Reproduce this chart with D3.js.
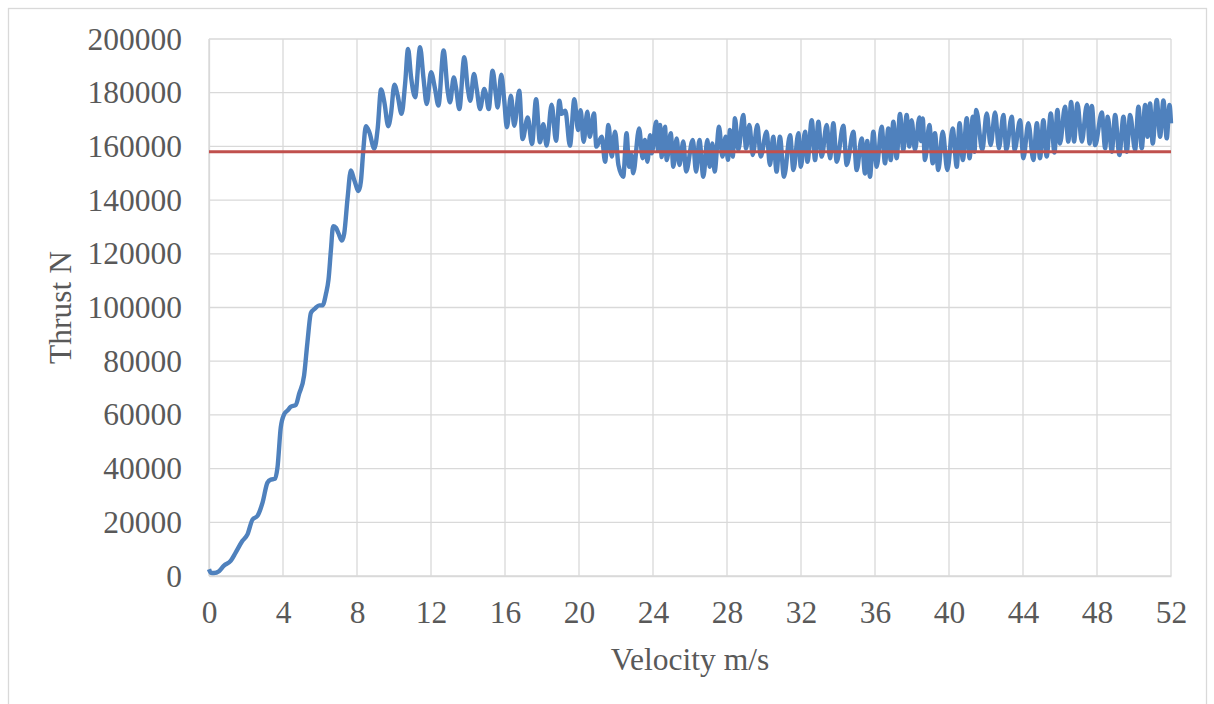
<!DOCTYPE html>
<html lang="en">
  <head>
    <meta charset="UTF-8" />
    <title>Thrust vs Velocity</title>
    <script src="https://d3js.org/d3.v7.min.js"></script>
    <style>
      body {
        margin: 0;
        padding: 0;
        background: #fff;
        font-family: "Liberation Serif", "Times New Roman", serif;
      }

      .grid line {
        stroke: #d9d9d9;
        stroke-width: 1.3;
      }

      .tick-label {
        fill: #595959;
        font-family: "Liberation Serif", "Times New Roman", serif;
        font-size: 31.5px;
      }

      .axis-title {
        fill: #595959;
        font-family: "Liberation Serif", "Times New Roman", serif;
        font-size: 31.5px;
      }
    </style>
  </head>
  <body>
    <div id="chart"></div>

    <script>
      const velocity = [
        0, 0.1, 0.27, 0.54, 0.81, 1.17, 1.44, 1.8, 2.08, 2.35, 2.62, 2.89,
        3.16, 3.34, 3.57, 3.7, 3.88, 4.06, 4.24, 4.42, 4.69, 4.87, 5.14, 5.32,
        5.51, 5.74, 5.96, 6.14, 6.32, 6.46, 6.59, 6.71, 6.86, 7.0, 7.18, 7.31,
        7.49, 7.67, 7.85, 8.09, 8.21, 8.34, 8.48, 8.66, 8.94, 9.12, 9.3, 9.48,
        9.69, 9.84, 10.02, 10.2, 10.41, 10.6, 10.76, 10.92, 11.14, 11.41,
        11.59, 11.77, 12.0, 12.22, 12.4, 12.68, 12.9, 13.03, 13.23, 13.35,
        13.53, 13.8, 13.98, 14.13, 14.32, 14.47, 14.65, 14.88, 14.97, 15.12,
        15.33, 15.51, 15.6, 15.8, 15.96, 16.1, 16.32, 16.5, 16.77, 16.95,
        17.23, 17.46, 17.68, 17.89, 18.07, 18.25, 18.52, 18.76, 18.94, 19.06,
        19.26, 19.51, 19.75, 19.95, 20.09, 20.25, 20.45, 20.58, 20.81, 20.94,
        21.23, 21.41, 21.59, 21.77, 21.95, 22.13, 22.39, 22.57, 22.71, 22.82,
        22.93, 23.25, 23.44, 23.56, 23.7, 23.84, 23.93, 24.17, 24.27, 24.38,
        24.47, 24.65, 24.74, 24.96, 25.1, 25.28, 25.43, 25.64, 25.79, 26.15,
        26.33, 26.51, 26.72, 26.94, 27.06, 27.21, 27.33, 27.57, 27.75, 27.93,
        28.05, 28.16, 28.31, 28.43, 28.61, 28.88, 29.03, 29.21, 29.39, 29.64,
        29.82, 30.14, 30.32, 30.5, 30.68, 30.86, 31.08, 31.41, 31.59, 31.86,
        31.99, 32.22, 32.35, 32.58, 32.76, 32.94, 33.12, 33.39, 33.57, 33.75,
        33.93, 34.29, 34.47, 34.83, 35.01, 35.28, 35.46, 35.58, 35.73, 35.91,
        36.09, 36.36, 36.54, 36.72, 36.85, 36.99, 37.17, 37.35, 37.53, 37.71,
        37.86, 37.98, 38.16, 38.4, 38.48, 38.58, 38.7, 38.94, 39.12, 39.24,
        39.42, 39.66, 39.91, 40.2, 40.42, 40.57, 40.75, 40.96, 41.11, 41.29,
        41.38, 41.47, 41.8, 42.04, 42.25, 42.49, 42.7, 42.94, 43.1, 43.39,
        43.55, 43.84, 44.02, 44.29, 44.56, 44.75, 44.92, 45.1, 45.28, 45.5,
        45.7, 45.86, 46.0, 46.27, 46.45, 46.6, 46.76, 46.94, 47.18, 47.45,
        47.6, 47.72, 47.9, 48.26, 48.44, 48.58, 48.8, 48.98, 49.21, 49.43,
        49.61, 49.79, 50.06, 50.24, 50.42, 50.6, 50.73, 50.87, 51.01, 51.23,
        51.41, 51.59, 51.77, 51.92, 52.0,
      ];

      const thrust = [
        2500, 1200, 1100, 1800, 3850, 5600, 8700, 13000, 15500, 21000, 22400,
        27200, 34800, 35900, 36200, 40300, 55400, 60200, 61600, 63000, 63700,
        67800, 74700, 87000, 98000, 99700, 100800, 100800, 105000, 110400,
        121400, 130300, 129700, 127600, 124900, 127600, 140700, 151000,
        147500, 143400, 146900, 158500, 167500, 165400, 159200, 166800,
        181200, 176400, 167500, 172300, 183000, 178900, 172100, 183300,
        196300, 186000, 178300, 196900, 185700, 175800, 187600, 181400,
        175200, 195700, 180700, 176400, 185700, 182000, 173900, 193200,
        182000, 177000, 187000, 181400, 173900, 181400, 179500, 173900,
        188200, 178900, 174500, 186700, 177000, 167100, 178900, 167700,
        180700, 162700, 170800, 160900, 177600, 161500, 168300, 160300,
        175500, 162100, 177000, 172100, 173300, 160300, 177600, 166100,
        173500, 161700, 172900, 163600, 172300, 159900,
        163600, 154300, 168000, 156200, 165500, 153100, 148700, 164900,
        152400, 157000, 150000, 166700, 155600, 162400, 154300, 164200,
        157400, 169200, 158700, 168000, 156000, 167300, 154900, 164900,
        152400, 163000, 153100, 161800, 150600, 162400, 150600, 162400,
        148700, 162400, 152400, 161100, 150600, 167300, 156200, 163600,
        155000, 166100, 156200, 170500, 158700, 171700, 159300, 168000,
        156800, 168000, 156200, 165500, 153100, 163600, 150600, 163600,
        148700, 164200, 151200, 164900, 152400, 165500, 154300, 169800,
        154900, 169200, 156200, 168000, 155600, 168600, 154300, 167700,
        153100, 165500, 151200, 163000, 149900, 162000, 148700, 165500,
        152400, 167300, 153700, 166700, 154900, 169200, 155600, 172100,
        158700, 171700, 159900, 169800, 158700, 170800, 162000, 170400,
        154900, 168000, 153700, 164900, 151200, 165500, 151200, 166700,
        152400, 168600, 154900, 170500, 155600, 171100, 158000, 173600,
        158700, 172300, 160500, 172600, 159300, 171700, 158700, 171100,
        158700, 169800, 155600, 168600, 154900, 168600, 155600, 169800,
        156200, 172300, 157700, 173600, 161100, 174800, 161800, 176600,
        161800, 176000, 161800, 175400, 161100, 175100, 160500, 172600,
        159300, 171100, 158000, 171700, 156800, 171100, 158000, 171700,
        158700, 174800, 159300, 175400, 163600, 176000, 161100, 177300,
        163600, 177100, 163000, 175400, 168600,
      ];

      const referenceThrust = 158000;

      const xTicks = [0, 4, 8, 12, 16, 20, 24, 28, 32, 36, 40, 44, 48, 52];
      const yTicks = [
        0, 20000, 40000, 60000, 80000, 100000, 120000, 140000, 160000, 180000,
        200000,
      ];

      const width = 1214;
      const height = 704;
      const margins = { top: 39, right: 43, bottom: 128, left: 209 };
      const innerWidth = width - margins.left - margins.right;
      const innerHeight = height - margins.top - margins.bottom;

      const svg = d3
        .select("#chart")
        .append("svg")
        .attr("width", width)
        .attr("height", height);

      // outer chart frame
      svg
        .append("rect")
        .attr("x", 8.5)
        .attr("y", 8.5)
        .attr("width", 1198)
        .attr("height", 720)
        .attr("fill", "none")
        .attr("stroke", "#d9d9d9")
        .attr("stroke-width", 1.3);

      const g = svg
        .append("g")
        .attr("transform", `translate(${margins.left}, ${margins.top})`);

      const xScale = d3.scaleLinear().domain([0, 52]).range([0, innerWidth]);
      const yScale = d3
        .scaleLinear()
        .domain([0, 200000])
        .range([innerHeight, 0]);

      // gridlines
      g.append("g")
        .attr("class", "grid")
        .selectAll("line")
        .data(yTicks)
        .enter()
        .append("line")
        .attr("x1", 0)
        .attr("x2", innerWidth)
        .attr("y1", (d) => yScale(d))
        .attr("y2", (d) => yScale(d));

      g.append("g")
        .attr("class", "grid")
        .selectAll("line")
        .data(xTicks)
        .enter()
        .append("line")
        .attr("x1", (d) => xScale(d))
        .attr("x2", (d) => xScale(d))
        .attr("y1", 0)
        .attr("y2", innerHeight);

      // axes (labels only, lines come from the grid)
      const xAxis = g
        .append("g")
        .attr("transform", `translate(0, ${innerHeight})`)
        .call(d3.axisBottom(xScale).tickValues(xTicks).tickSize(0).tickPadding(15));
      xAxis.select(".domain").attr("stroke", "#d9d9d9").attr("stroke-width", 1.3);
      xAxis
        .selectAll("text")
        .attr("class", "tick-label")
        .attr("dy", "1em");

      const yAxis = g
        .append("g")
        .call(
          d3
            .axisLeft(yScale)
            .tickValues(yTicks)
            .tickSize(0)
            .tickPadding(27)
            .tickFormat(d3.format("d"))
        );
      yAxis.select(".domain").attr("stroke", "#d9d9d9").attr("stroke-width", 1.3);
      yAxis.selectAll("text").attr("class", "tick-label");

      // thrust curve
      const points = velocity.map((v, i) => [v, thrust[i]]);
      const line = d3
        .line()
        .x((d) => xScale(d[0]))
        .y((d) => yScale(d[1]))
        .curve(d3.curveMonotoneX);

      g.append("path")
        .datum(points)
        .attr("fill", "none")
        .attr("stroke", "#4f81bd")
        .attr("stroke-width", 4.4)
        .attr("stroke-linejoin", "round")
        .attr("d", line);

      // reference line
      g.append("line")
        .attr("x1", xScale(0))
        .attr("x2", xScale(52))
        .attr("y1", yScale(referenceThrust))
        .attr("y2", yScale(referenceThrust))
        .attr("stroke", "#c0504d")
        .attr("stroke-width", 3.2);

      // axis titles
      svg
        .append("text")
        .attr("class", "axis-title")
        .attr("x", margins.left + innerWidth / 2)
        .attr("y", 670)
        .attr("text-anchor", "middle")
        .text("Velocity m/s");

      svg
        .append("text")
        .attr("class", "axis-title")
        .attr("transform", `translate(71, ${margins.top + innerHeight / 2}) rotate(-90)`)
        .attr("text-anchor", "middle")
        .text("Thrust N");
    </script>
  </body>
</html>
